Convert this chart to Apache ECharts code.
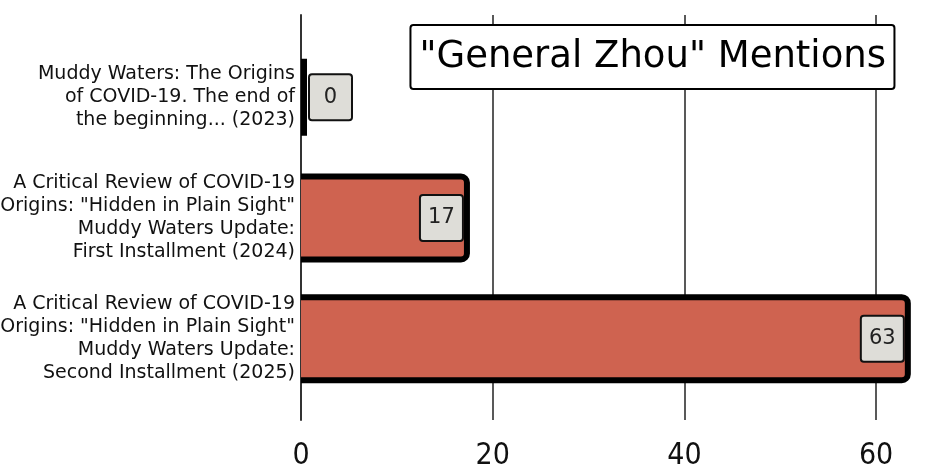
<!DOCTYPE html>
<html>
<head>
<meta charset="utf-8">
<script src="https://cdn.jsdelivr.net/npm/echarts@6/dist/echarts.min.js"></script>
<style>
html,body{margin:0;padding:0;background:#fff;}
#chart{width:927px;height:473px;}
</style>
</head>
<body>
<div id="chart"></div>
<script>
const categories = [
  'Muddy Waters: The Origins\nof COVID-19. The end of\nthe beginning... (2023)',
  'A Critical Review of COVID-19\nOrigins: "Hidden in Plain Sight"\nMuddy Waters Update:\nFirst Installment (2024)',
  'A Critical Review of COVID-19\nOrigins: "Hidden in Plain Sight"\nMuddy Waters Update:\nSecond Installment (2025)'
];
const mentions = [0, 17, 63];
const xTicks = [0, 20, 40, 60];
const chartTitle = '"General Zhou" Mentions';

const FONT = 'DejaVu Sans';
const TICK_FONT = '"DejaVu Sans Condensed", "DejaVu Sans"';
const BAR_FILL = '#cf6350';
const chart = echarts.init(document.getElementById('chart'), null, {renderer: 'canvas'});

function renderBar(params, api) {
  const ci = api.value(0);
  const v = api.value(1);
  const p0 = api.coord([0, ci]);
  const p1 = api.coord([v, ci]);
  const band = api.size([0, 1])[1];
  const h = band * 0.688;
  const x0 = p0[0] - 12;
  const x1 = p1[0] + 3;
  const isZero = v === 0;
  const hh = isZero ? h - 12 : h;
  return {
    type: 'rect',
    shape: {x: x0, y: p1[1] - hh / 2, width: x1 - x0, height: hh, r: isZero ? 0 : 6},
    style: {fill: BAR_FILL, stroke: '#000', lineWidth: 6},
    textContent: {
      style: {
        text: '{v|' + v + '}',
        rich: {
          v: {fontFamily: FONT, fontSize: 21, fill: '#222', width: 27, height: 24, lineHeight: 24, align: 'center'}
        },
        backgroundColor: '#deddd8',
        borderColor: '#111',
        borderWidth: 2,
        borderRadius: 2,
        padding: [10, 7]
      }
    },
    textConfig: isZero ? {position: 'right', distance: 3} : {position: 'insideRight', distance: 8}
  };
}

chart.setOption({
  animation: false,
  backgroundColor: '#fff',
  title: {
    text: chartTitle,
    right: 32,
    top: 25,
    padding: [11, 9],
    backgroundColor: '#fff',
    borderColor: '#000',
    borderWidth: 2,
    borderRadius: 3,
    textStyle: {fontFamily: FONT, fontSize: 37, fontWeight: 'normal', color: '#000', lineHeight: 42}
  },
  grid: [
    {left: 301, right: 3, top: 15, bottom: 53, outerBoundsMode: 'none', containLabel: false},
    {left: 301, right: 3, top: 37, bottom: 74, outerBoundsMode: 'none', containLabel: false}
  ],
  xAxis: [
    {
      gridIndex: 0, type: 'value', min: 0, max: 65, interval: 20,
      axisLine: {show: false}, axisTick: {show: false},
      axisLabel: {
        fontFamily: TICK_FONT, fontSize: 30, color: '#111', margin: 21,
        showMaxLabel: false,
        formatter: v => xTicks.includes(v) ? String(v) : ''
      },
      splitLine: {show: true, showMinLine: false, showMaxLine: false, lineStyle: {color: '#222', width: 1.5}}
    },
    {gridIndex: 1, type: 'value', min: 0, max: 65, show: false}
  ],
  yAxis: [
    {
      gridIndex: 0, type: 'value', min: 0, max: 1,
      axisLine: {show: true, lineStyle: {color: '#333', width: 2}},
      axisTick: {show: false}, axisLabel: {show: false}, splitLine: {show: false}
    },
    {
      gridIndex: 1, type: 'category', data: categories, inverse: true,
      axisLine: {show: false}, axisTick: {show: false},
      axisLabel: {fontFamily: FONT, fontSize: 19, lineHeight: 23, color: '#111', margin: 6, align: 'right'}
    }
  ],
  series: [{
    type: 'custom',
    xAxisIndex: 1,
    yAxisIndex: 1,
    clip: true,
    renderItem: renderBar,
    encode: {x: 1, y: 0},
    data: mentions.map((v, i) => [i, v]),
    z: 5
  }]
});
</script>
</body>
</html>
